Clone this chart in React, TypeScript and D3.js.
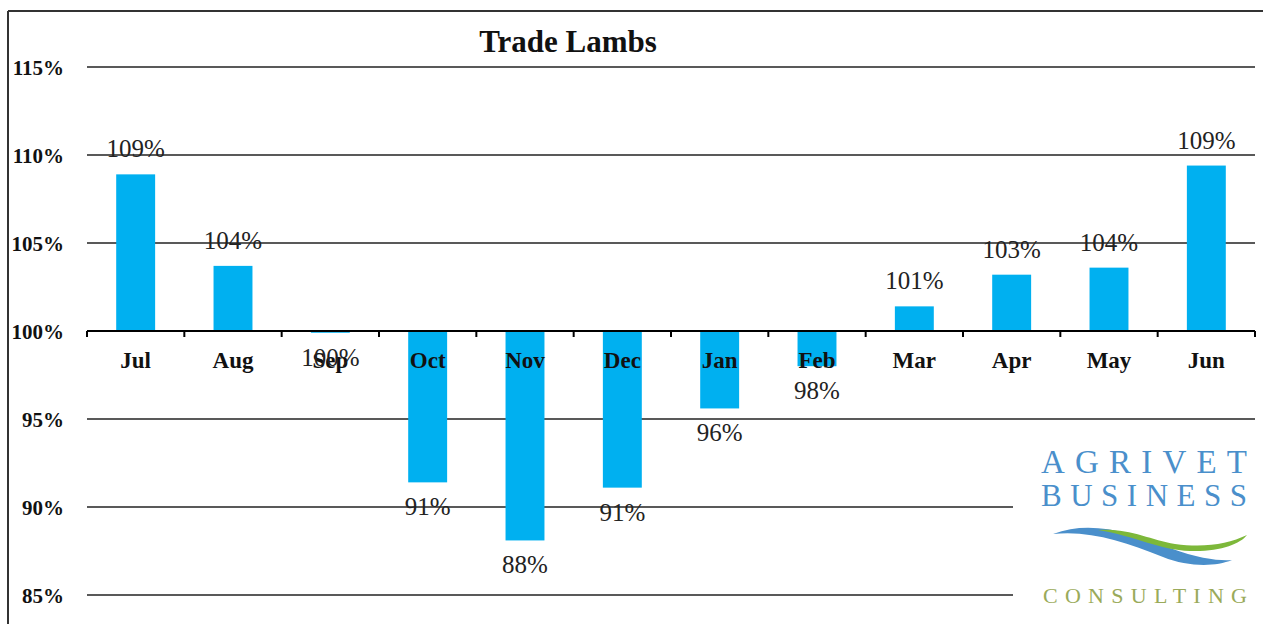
import React from "react";
import * as d3 from "d3";

const categories = ["Jul", "Aug", "Sep", "Oct", "Nov", "Dec", "Jan", "Feb", "Mar", "Apr", "May", "Jun"];
const values = [108.9, 103.7, 99.9, 91.4, 88.1, 91.1, 95.6, 98.0, 101.4, 103.2, 103.6, 109.4];
const yTicks = [85, 90, 95, 100, 105, 110, 115];
const title = "Trade Lambs";

const W = 1263;
const H = 624;
const left = 87;
const right = 1255;
const top = 67;
const bottom = 595;

export default function App() {
  const x = d3.scaleBand<string>().domain(categories).range([left, right]).paddingInner(0.6).paddingOuter(0.3);
  const xb = d3.scaleBand<string>().domain(categories).range([left, right]);
  const y = d3.scaleLinear().domain([85, 115]).range([bottom, top]);
  const serif = "'Liberation Serif', 'Times New Roman', Times, serif";
  const base = y(100);
  const logoX = 1013;
  const logoY = 420;

  return (
    <svg width={W} height={H} style={{ position: "absolute", left: 0, top: 0, background: "#fff" }}>
      <rect x={0} y={0} width={W} height={H} fill="#fff" />
      {/* frame */}
      <line x1={8} x2={W} y1={11} y2={11} stroke="#333" strokeWidth={2} />
      <line x1={8} x2={8} y1={11} y2={H} stroke="#333" strokeWidth={2} />

      {/* title */}
      <text x={568} y={52} textAnchor="middle" fontFamily={serif} fontWeight="bold" fontSize={31} fill="#111">
        {title}
      </text>

      {/* gridlines */}
      {yTicks.map((t) => (
        <line key={t} x1={left} x2={right} y1={y(t)} y2={y(t)} stroke="#222" strokeWidth={1.5} />
      ))}
      {yTicks.map((t) => (
        <text key={"l" + t} x={64} y={y(t) + 8} textAnchor="end" fontFamily={serif} fontWeight="bold" fontSize={21} fill="#111">
          {t}%
        </text>
      ))}

      {/* bars */}
      {categories.map((c, i) => {
        const v = values[i];
        const y0 = Math.min(y(v), base);
        const h = Math.abs(y(v) - base);
        return <rect key={c} x={x(c)} y={y0} width={x.bandwidth()} height={h} fill="#00B0F0" />;
      })}

      {/* axis at 100% */}
      <line x1={left} x2={right} y1={base} y2={base} stroke="#000" strokeWidth={2} />
      {[...categories.map((c) => xb(c) as number), right].map((px, i) => (
        <line key={"t" + i} x1={px} x2={px} y1={base} y2={base + 6} stroke="#000" strokeWidth={2} />
      ))}
      {categories.map((c) => (
        <text key={"c" + c} x={(xb(c) as number) + xb.bandwidth() / 2} y={base + 37} textAnchor="middle" fontFamily={serif} fontWeight="bold" fontSize={23} fill="#111">
          {c}
        </text>
      ))}

      {/* value labels */}
      {categories.map((c, i) => {
        const v = values[i];
        const cx = (xb(c) as number) + xb.bandwidth() / 2;
        const ly = v >= 100 ? y(v) - 17 : y(v) + 33;
        return (
          <text key={"v" + c} x={cx} y={ly} textAnchor="middle" fontFamily={serif} fontSize={25} fill="#222">
            {Math.round(v)}%
          </text>
        );
      })}

      {/* logo */}
      <rect x={logoX} y={logoY} width={W - logoX} height={H - logoY} fill="#fff" />
      <text x={1041} y={473} fontFamily={serif} fontSize={33} textLength={206} lengthAdjust="spacing" fill="#4A8FCB">
        AGRIVET
      </text>
      <text x={1041} y={506} fontFamily={serif} fontSize={31} textLength={206} lengthAdjust="spacing" fill="#4A8FCB">
        BUSINESS
      </text>
      <path
        d="M1053,534 C1090,520 1130,532 1170,548 C1200,559 1220,561 1232,560 C1215,567 1188,567 1163,557 C1125,542 1090,530 1053,534 Z"
        fill="#4A8FCB"
      />
      <path
        d="M1098,530 C1130,528 1150,540 1175,544 C1205,548 1228,544 1247,535 C1240,544 1220,552 1190,551 C1160,550 1135,536 1098,530 Z"
        fill="#7DB83A"
      />
      <text x={1043} y={603} fontFamily={serif} fontSize={22} textLength={204} lengthAdjust="spacing" fill="#9AAA5A">
        CONSULTING
      </text>
    </svg>
  );
}
